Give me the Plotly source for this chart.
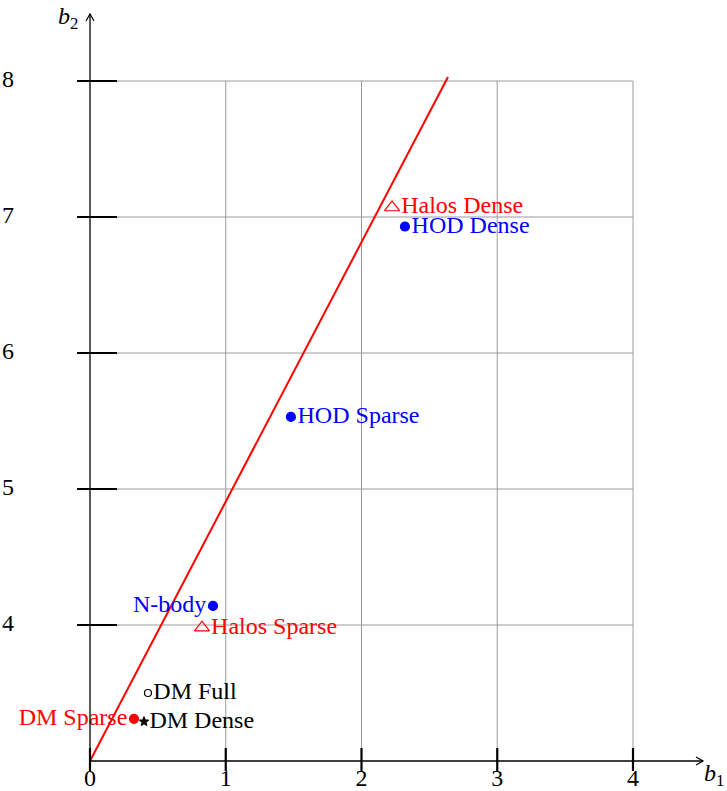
import plotly.graph_objects as go

# ---- data ----
names = ["HOD Dense", "Halos Dense", "HOD Sparse", "N-body", "Halos Sparse", "DM Full", "DM Sparse", "DM Dense"]
b1 = [2.32, 2.225, 1.48, 0.906, 0.825, 0.427, 0.324, 0.398]
b2 = [6.93, 7.07, 5.53, 4.14, 3.98, 3.50, 3.31, 3.29]
colors = ["blue", "red", "blue", "blue", "red", "black", "red", "black"]
symbols = ["circle", "triangle-up-open", "circle", "circle", "triangle-up-open", "circle-open", "circle", "star"]
sizes = [9, 13, 9, 9, 13, 7, 9, 7]
textpos = ["middle right", "middle right", "middle right", "middle left", "middle right",
           "middle right", "middle left", "middle right"]

line_b1 = [0.0, 2.637]
line_b2 = [3.0, 8.03]

x_ticks = [0, 1, 2, 3, 4]
x_tick_labels = ["0", "1", "2", "3", "4"]
y_ticks = [4, 5, 6, 7, 8]
y_tick_labels = ["4", "5", "6", "7", "8"]

# ---- geometry (px per unit) ----
W, H = 727, 791
ox, oy = 90, 761
sx, sy = 135.75, 136.0
xr = [-ox / sx, (W - ox) / sx]
yr = [3 - (H - oy) / sy, 3 + oy / sy]

FONT = "Liberation Serif"
FS = 24

fig = go.Figure()

shapes = []
# grid
for xv in x_ticks[1:]:
    shapes.append(dict(type="line", x0=xv, x1=xv, y0=3, y1=8, line=dict(color="#9a9a9a", width=1), layer="below"))
for yv in y_ticks:
    shapes.append(dict(type="line", x0=0, x1=4, y0=yv, y1=yv, line=dict(color="#9a9a9a", width=1), layer="below"))
# axes
x_end = (703 - ox) / sx
y_end = 3 + (oy - 14) / sy
shapes.append(dict(type="line", x0=0, x1=x_end, y0=3, y1=3, line=dict(color="black", width=1.3)))
shapes.append(dict(type="line", x0=0, x1=0, y0=3, y1=y_end, line=dict(color="black", width=1.3)))
# arrowheads
ah, aw = 7 / sx, 4 / sy
shapes.append(dict(type="path", path=f"M {x_end-ah},{3+aw} L {x_end},3 L {x_end-ah},{3-aw}",
                   line=dict(color="black", width=1.2)))
ah2, aw2 = 7 / sy, 4 / sx
shapes.append(dict(type="path", path=f"M {-aw2},{y_end-ah2} L 0,{y_end} L {aw2},{y_end-ah2}",
                   line=dict(color="black", width=1.2)))
# ticks
for xv in x_ticks:
    shapes.append(dict(type="line", x0=xv, x1=xv, y0=3 - 10 / sy, y1=3 + 13 / sy, line=dict(color="black", width=2.2)))
for yv in y_ticks:
    shapes.append(dict(type="line", x0=-13 / sx, x1=27 / sx, y0=yv, y1=yv, line=dict(color="black", width=2.2)))

# red line
fig.add_trace(go.Scatter(x=line_b1, y=line_b2, mode="lines", line=dict(color="red", width=2), hoverinfo="skip"))

# points
for n, xv, yv, c, s, sz, tp in zip(names, b1, b2, colors, symbols, sizes, textpos):
    fig.add_trace(go.Scatter(
        x=[xv], y=[yv], mode="markers+text", text=[n], textposition=tp,
        marker=dict(symbol=s, color=c, size=sz, line=dict(color=c, width=1.2)),
        textfont=dict(family=FONT, size=FS, color=c), cliponaxis=False))

# tick labels
fig.add_trace(go.Scatter(x=x_ticks, y=[3 - 19 / sy] * len(x_ticks), mode="text", text=x_tick_labels,
                         textfont=dict(family=FONT, size=FS, color="black"), cliponaxis=False))
fig.add_trace(go.Scatter(x=[-82 / sx] * len(y_ticks), y=y_ticks, mode="text", text=y_tick_labels,
                         textfont=dict(family=FONT, size=FS, color="black"), cliponaxis=False))

annotations = [
    dict(x=-22 / sx, y=3 + (oy - 18) / sy, text="<i>b</i><sub>2</sub>", showarrow=False,
         font=dict(family=FONT, size=FS, color="black")),
    dict(x=(726 - ox) / sx, y=3 - (775 - oy) / sy, text="<i>b</i><sub>1</sub>", showarrow=False,
         xanchor="right", font=dict(family=FONT, size=FS, color="black")),
]

fig.update_layout(
    width=W, height=H, margin=dict(l=0, r=0, t=0, b=0),
    paper_bgcolor="white", plot_bgcolor="white", showlegend=False,
    xaxis=dict(range=xr, visible=False, fixedrange=True),
    yaxis=dict(range=yr, visible=False, fixedrange=True),
    shapes=shapes, annotations=annotations,
)

fig.write_html("out.html", config={"displayModeBar": False},
               post_script="document.body.style.margin='0';document.body.style.overflow='hidden';")
